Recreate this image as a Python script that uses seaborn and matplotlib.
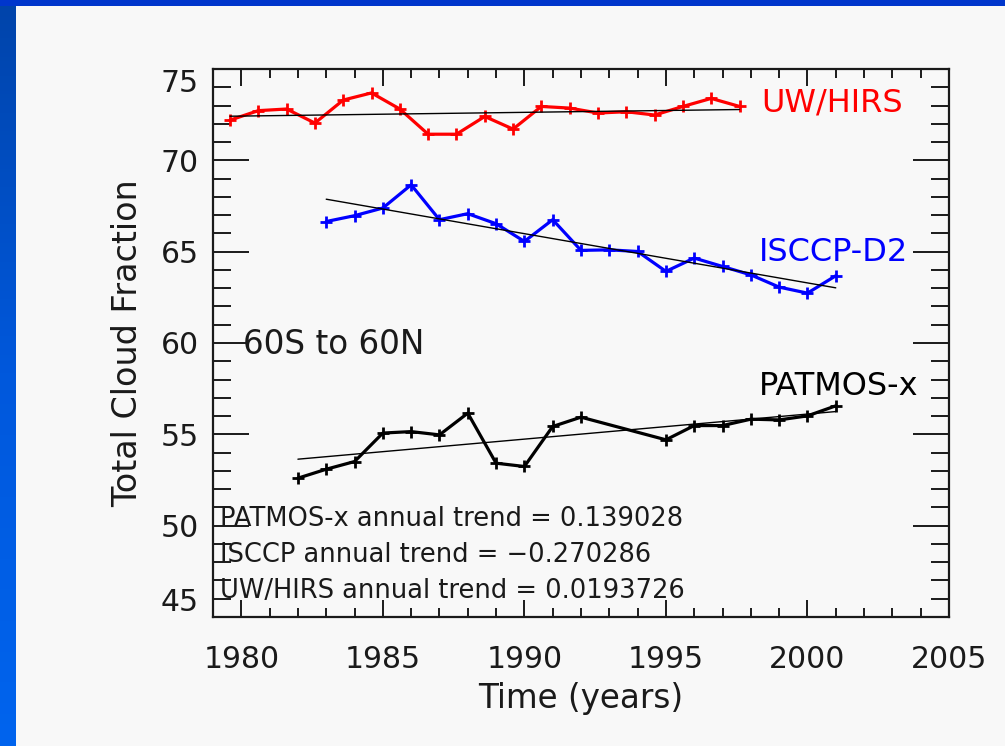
import numpy as np
import pandas as pd
import matplotlib
matplotlib.use("Agg")
import matplotlib.pyplot as plt
import seaborn as sns
from matplotlib.ticker import MultipleLocator
from matplotlib.colors import LinearSegmentedColormap

# ---------------- data ----------------
uw_years = [1979.6, 1980.6, 1981.6, 1982.6, 1983.6, 1984.6, 1985.6, 1986.6, 1987.6,
            1988.6, 1989.6, 1990.6, 1991.6, 1992.6, 1993.6, 1994.6, 1995.6, 1996.6, 1997.6]
uw_values = [72.20, 72.72, 72.81, 72.04, 73.30, 73.69, 72.81, 71.43, 71.43,
             72.40, 71.71, 72.95, 72.86, 72.59, 72.66, 72.48, 72.95, 73.39, 72.95]

isccp_years = [1983, 1984, 1985, 1986, 1987, 1988, 1989, 1990, 1991, 1992,
               1993, 1994, 1995, 1996, 1997, 1998, 1999, 2000, 2001]
isccp_values = [66.65, 66.97, 67.39, 68.66, 66.75, 67.08, 66.53, 65.56, 66.75, 65.07,
                65.10, 65.01, 63.92, 64.65, 64.19, 63.73, 63.06, 62.73, 63.68]

patmos_years = [1982, 1983, 1984, 1985, 1986, 1987, 1988, 1989, 1990, 1991, 1992,
                1995, 1996, 1997, 1998, 1999, 2000, 2001]
patmos_values = [52.60, 53.09, 53.51, 55.07, 55.15, 54.97, 56.16, 53.42, 53.24, 55.43, 55.94,
                 54.70, 55.48, 55.48, 55.83, 55.79, 56.01, 56.56]

series_names = ["UW/HIRS", "ISCCP-D2", "PATMOS-x"]
trend_texts = ["PATMOS-x annual trend = 0.139028",
               "ISCCP annual trend = \u22120.270286",
               "UW/HIRS annual trend = 0.0193726"]
region_text = "60S to 60N"
x_ticks = [1980, 1985, 1990, 1995, 2000, 2005]
y_ticks = [45, 50, 55, 60, 65, 70, 75]
x_label = "Time (years)"
y_label = "Total Cloud Fraction"

# ---------------- style ----------------
sns.set_style("white")
plt.rcParams["font.family"] = ["DejaVu Sans"]
INK = "#1a1a1a"
BG = "#f8f8f8"

fig = plt.figure(figsize=(10.05, 7.46), dpi=100, facecolor=BG)

# blue slide frame (left gradient strip + top strip)
strip = fig.add_axes([0, 0, 15 / 1005, 1])
cmap = LinearSegmentedColormap.from_list("fr", ["#0044aa", "#0058dc", "#0064ee"])
strip.imshow(np.linspace(0, 1, 256).reshape(-1, 1), aspect="auto", cmap=cmap)
strip.set_axis_off()
top = fig.add_axes([0, 1 - 6 / 746, 1, 6 / 746])
top.set_facecolor("#0036cc")
top.set_xticks([]); top.set_yticks([])
for s in top.spines.values():
    s.set_visible(False)

ax = fig.add_axes([213 / 1005, 1 - 617 / 746, (949 - 213) / 1005, (617 - 69) / 746])
ax.set_facecolor(BG)

data = [
    (uw_years, uw_values, "#ff0000"),
    (isccp_years, isccp_values, "#0000ff"),
    (patmos_years, patmos_values, "#000000"),
]
for xs, ys, col in data:
    df = pd.DataFrame({"t": xs, "v": ys})
    sns.lineplot(data=df, x="t", y="v", ax=ax, color=col, lw=2.3, marker="+",
                 markersize=9, markeredgewidth=2.0, markeredgecolor=col, zorder=3)
    sns.regplot(data=df, x="t", y="v", ax=ax, scatter=False, ci=None, truncate=True,
                line_kws=dict(color="black", lw=1.0, zorder=4))

ax.set_xlim(1979, 2005)
ax.set_ylim(45, 75)
ax.set_xticks(x_ticks)
ax.set_yticks(y_ticks)
ax.xaxis.set_minor_locator(MultipleLocator(1))
ax.yaxis.set_minor_locator(MultipleLocator(1))

ax.tick_params(axis="x", which="major", direction="in", length=12, width=1.4,
               top=True, bottom=True, labelsize=21.5, pad=20, colors=INK)
ax.tick_params(axis="x", which="minor", direction="in", length=6.5, width=1.4,
               top=True, bottom=True, colors=INK)
ax.tick_params(axis="y", which="major", direction="in", length=26, width=1.4,
               left=True, right=True, labelsize=21.5, pad=10, colors=INK)
ax.tick_params(axis="y", which="minor", direction="in", length=13, width=1.4,
               left=True, right=True, colors=INK)
for s in ax.spines.values():
    s.set_linewidth(1.6)
    s.set_color(INK)

ylabs = ax.get_yticklabels()
ylabs[0].set_va("bottom")
ylabs[-1].set_va("top")

ax.set_xlabel(x_label, fontsize=23.5, color=INK, labelpad=6)
ax.set_ylabel(y_label, fontsize=24, color=INK, labelpad=12)

# series labels
ax.text(1998.36, 73.15, series_names[0], color="#ff0000", fontsize=23, va="center", ha="left")
ax.text(1998.3, 64.93, series_names[1], color="#0000ff", fontsize=23, va="center", ha="left")
ax.text(1998.3, 57.6, series_names[2], color="#000000", fontsize=23, va="center", ha="left")
ax.text(1980.06, 59.9, region_text, color=INK, fontsize=23.5, va="center", ha="left")

for txt, yv in zip(trend_texts, [50.37, 48.40, 46.43]):
    ax.text(1979.25, yv, txt, color=INK, fontsize=18.5, va="center", ha="left")

ax.grid(False)
fig.savefig("out.png", dpi=100, facecolor=BG)
